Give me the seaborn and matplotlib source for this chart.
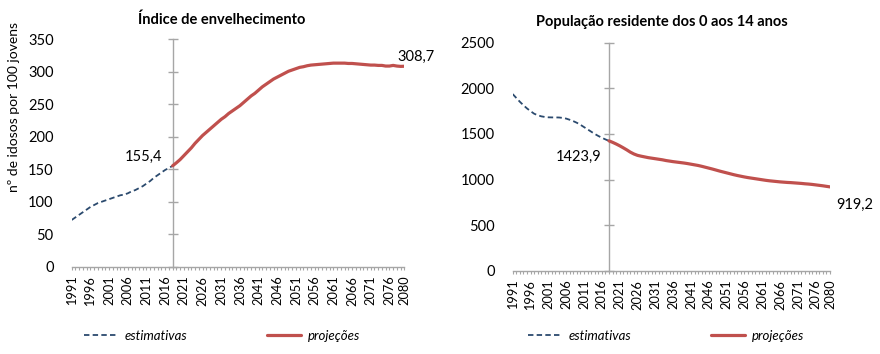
import numpy as np
import pandas as pd
import seaborn as sns
import matplotlib.pyplot as plt
from matplotlib.ticker import MultipleLocator

# anos
anos_est = list(range(1991, 2019))
anos_proj = list(range(2018, 2081))
rotulos_x = list(range(1991, 2077, 5)) + [2080]

# Índice de envelhecimento (idosos por 100 jovens)
indice_est = [72, 76, 80, 84, 88, 92, 95, 98, 100, 102, 104, 106, 108, 110,
              111, 113, 116, 118, 121, 124, 128, 132, 137, 141, 145, 149, 152, 155.4]
indice_proj = [155.4, 160, 165, 171, 177, 183, 190, 196, 202, 207, 212, 217, 222,
               227, 231, 236, 240, 244, 248, 253, 258, 263, 267, 272, 277, 281, 285,
               289, 292, 295, 298, 301, 303, 305, 307, 308, 309.5, 310.5, 311, 311.5,
               312, 312.5, 313, 313.5, 313.5, 313.5, 313.5, 313, 313, 312.5, 312,
               311.5, 311, 310.5, 310.5, 310, 310, 309, 309, 310, 309, 308.5, 308.7]

# População residente dos 0 aos 14 anos (milhares)
jovens_est = [1937, 1895, 1853, 1815, 1780, 1750, 1722, 1705, 1693, 1686, 1682,
              1681, 1681, 1680, 1676, 1668, 1655, 1640, 1622, 1600, 1575, 1550,
              1525, 1500, 1478, 1458, 1440, 1423.9]
jovens_proj = [1423.9, 1408, 1390, 1370, 1348, 1325, 1300, 1280, 1265, 1256, 1248,
               1240, 1234, 1228, 1222, 1216, 1208, 1202, 1196, 1191, 1186, 1181,
               1175, 1168, 1161, 1154, 1145, 1135, 1125, 1115, 1104, 1093, 1083,
               1073, 1063, 1053, 1044, 1036, 1028, 1021, 1015, 1009, 1003, 997, 991,
               986, 982, 978, 974, 971, 968, 966, 963, 960, 957, 953, 950, 946, 941,
               936, 931, 925, 919.2]

AZUL = "#2b4a6e"
VERMELHO = "#c0504d"
CINZA = "#a6a6a6"

sns.set_theme(style="white")
plt.rcParams['font.family'] = ['Lato', 'DejaVu Sans']
plt.rcParams['text.color'] = 'black'
plt.rcParams['xtick.labelcolor'] = 'black'
plt.rcParams['ytick.labelcolor'] = 'black'

fig = plt.figure(figsize=(8.8, 3.54), dpi=100)
ax1 = fig.add_axes([0.0815, 0.2466, 0.378, 0.642])
ax2 = fig.add_axes([0.5826, 0.2353, 0.3606, 0.644])


def painel(ax, est, proj, ymax, ystep, leg_x):
    df_est = pd.DataFrame({"ano": anos_est, "valor": est})
    df_proj = pd.DataFrame({"ano": anos_proj, "valor": proj})
    sns.lineplot(data=df_est, x="ano", y="valor", ax=ax, color=AZUL, lw=1.3,
                 linestyle=(0, (3, 1.8)), label="estimativas")
    sns.lineplot(data=df_proj, x="ano", y="valor", ax=ax, color=VERMELHO, lw=2.3,
                 label="projeções")
    ax.set_xlim(1991, 2080)
    ax.set_ylim(0, ymax)
    ax.set_xlabel("")
    ax.set_ylabel("")
    for s in ["top", "right", "left"]:
        ax.spines[s].set_visible(False)
    ax.spines["bottom"].set_color(CINZA)
    ax.spines["bottom"].set_linewidth(1)

    ax.set_yticks(np.arange(0, ymax + 1, ystep))
    ax.tick_params(axis="y", length=0, pad=13, labelsize=10.5)
    ax.set_xticks(rotulos_x)
    ax.set_xticklabels(rotulos_x, rotation=90, fontsize=9.2)
    ax.xaxis.set_minor_locator(MultipleLocator(1))
    ax.tick_params(axis="x", which="both", direction="out", length=2.5,
                   width=0.8, color=CINZA, pad=4, bottom=True)

    # eixo vertical no ano de transição
    sec = ax.secondary_yaxis((2018 - 1991) / 89)
    sec.set_yticks(np.arange(0, ymax + 1, ystep))
    sec.tick_params(direction="inout", length=6.5, width=1, color=CINZA,
                    labelleft=False, labelright=False)
    sec.spines["left"].set_color(CINZA)
    sec.spines["left"].set_linewidth(1)

    ax.legend(loc="center", bbox_to_anchor=(leg_x, 1 - 336 / 354),
              bbox_transform=fig.transFigure, ncol=2, frameon=False,
              handlelength=2.6, handletextpad=0.5, columnspacing=6,
              prop={"style": "italic", "size": 9.5})


painel(ax1, indice_est, indice_proj, 350, 50, 222 / 880)
painel(ax2, jovens_est, jovens_proj, 2500, 500, 666 / 880)

# rótulos de valores
ax1.annotate("155,4", xy=(2018, indice_est[-1]), xytext=(-21, 6.3),
             textcoords="offset points", ha="center", va="center", fontsize=10.5)
ax1.annotate("308,7", xy=(2080, indice_proj[-1]), xytext=(8.6, 6.5),
             textcoords="offset points", ha="center", va="center", fontsize=10.5)
ax2.annotate("1423,9", xy=(2018, jovens_est[-1]), xytext=(-22, -11.5),
             textcoords="offset points", ha="center", va="center", fontsize=10.5)
ax2.annotate("919,2", xy=(2080, jovens_proj[-1]), xytext=(18, -13),
             textcoords="offset points", ha="center", va="center", fontsize=10.5)

fig.text(222 / 880, 1 - 20 / 354, "Índice de envelhecimento", weight="bold",
         fontsize=10.5, ha="center", va="center")
fig.text(662 / 880, 1 - 22 / 354, "População residente dos 0 aos 14 anos",
         weight="bold", fontsize=10.5, ha="center", va="center")
fig.text(14 / 880, 1 - 107 / 354, "nº de idosos por 100 jovens", rotation=90,
         fontsize=10, ha="center", va="center")

fig.savefig("out.png", dpi=100)
